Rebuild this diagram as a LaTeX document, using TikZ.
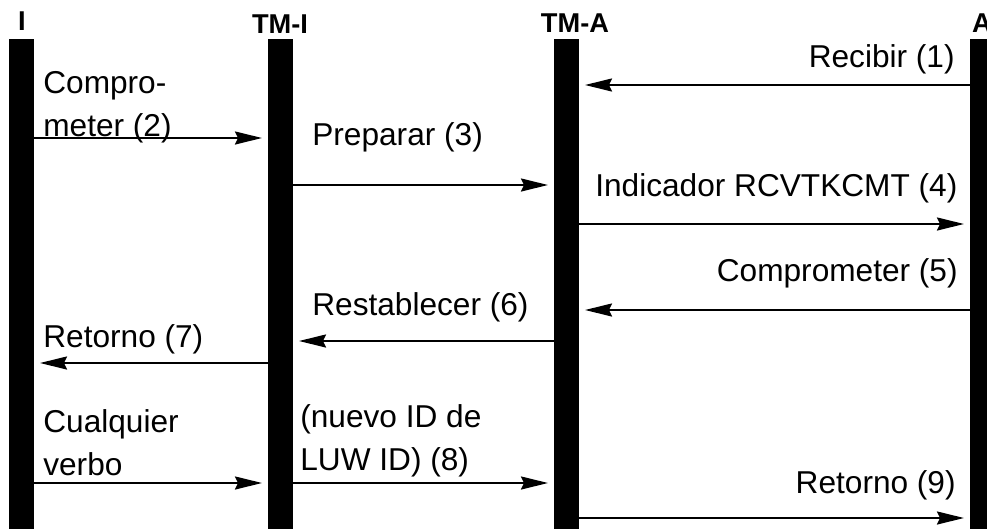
\documentclass[tikz,border=0pt]{standalone}
\usepackage{fontspec}
\setmainfont{Liberation Sans}
\usepackage{tikz}
\usetikzlibrary{arrows.meta}
\tikzset{
	lifeline/.style={fill=black, inner sep=0pt, outer sep=0pt, minimum width=0.5cm, minimum height=9.8cm, anchor=south west},
	msg/.style={line width=1.2pt, -{Stealth[length=0.54cm,width=0.26cm,inset=0.06cm]}, shorten >=0.12cm},
	txt/.style={inner sep=0pt, font=\fontsize{18}{24.4}\selectfont, align=left},
	head/.style={inner sep=0pt, font=\fontsize{15.5}{18}\selectfont\bfseries, anchor=base}
}
\begin{document}
\begin{tikzpicture}[x=0.02cm, y=-0.02cm]
	\useasboundingbox (0,0) rectangle (987,531);
	\clip (0,0) rectangle (987,531);

	%LIFELINES
	\node[lifeline] (I) at (9,529) {};
	\node[lifeline] (TMI) at (268,529) {};
	\node[lifeline] (TMA) at (554,529) {};
	\node[lifeline] (A) at (970,529) {};

	%HEADINGS
	\node[head] (hI) at (22,30) {I};
	\node[head] (hTMI) at (280,33) {TM-I};
	\node[head] (hTMA) at (575,32) {TM-A};
	\node[head] (hA) at (982,32) {A};

	%MESSAGES
	\draw[msg] (A.west |- 0,85) -- (TMA.east |- 0,85);		%(1)
	\draw[msg] (I.east |- 0,138) -- (TMI.west |- 0,138);	%(2)
	\draw[msg] (TMI.east |- 0,185) -- (TMA.west |- 0,185);	%(3)
	\draw[msg] (TMA.east |- 0,224) -- (A.west |- 0,224);	%(4)
	\draw[msg] (A.west |- 0,310) -- (TMA.east |- 0,310);	%(5)
	\draw[msg] (TMA.west |- 0,341) -- (TMI.east |- 0,341);	%(6)
	\draw[msg] (TMI.west |- 0,363) -- (I.east |- 0,363);	%(7)
	\draw[msg] (I.east |- 0,483) -- (TMI.west |- 0,483);
	\draw[msg] (TMI.east |- 0,483) -- (TMA.west |- 0,483);	%(8)
	\draw[msg] (TMA.east |- 0,518) -- (A.west |- 0,518);	%(9)

	%LABELS
	\node[txt, anchor=base east] (recibir) at (955,67) {Recibir (1)};
	\node[txt, anchor=base west] (compro) at (43,136) {Compro-\\meter (2)};
	\node[txt, anchor=base west] (preparar) at (312,145) {Preparar (3)};
	\node[txt, anchor=base west] (indicador) at (595,196) {Indicador RCVTKCMT (4)};
	\node[txt, anchor=base east] (comprom) at (958,281) {Comprometer (5)};
	\node[txt, anchor=base west] (restab) at (312,315) {Restablecer (6)};
	\node[txt, anchor=base west] (retorno7) at (43,347) {Retorno (7)};
	\node[txt, anchor=base west] (cualq) at (43,475) {Cualquier\\verbo};
	\node[txt, anchor=base west] (nuevo) at (300,470) {(nuevo ID de\\LUW ID) (8)};
	\node[txt, anchor=base east] (retorno9) at (956,493) {Retorno (9)};
\end{tikzpicture}
\end{document}
